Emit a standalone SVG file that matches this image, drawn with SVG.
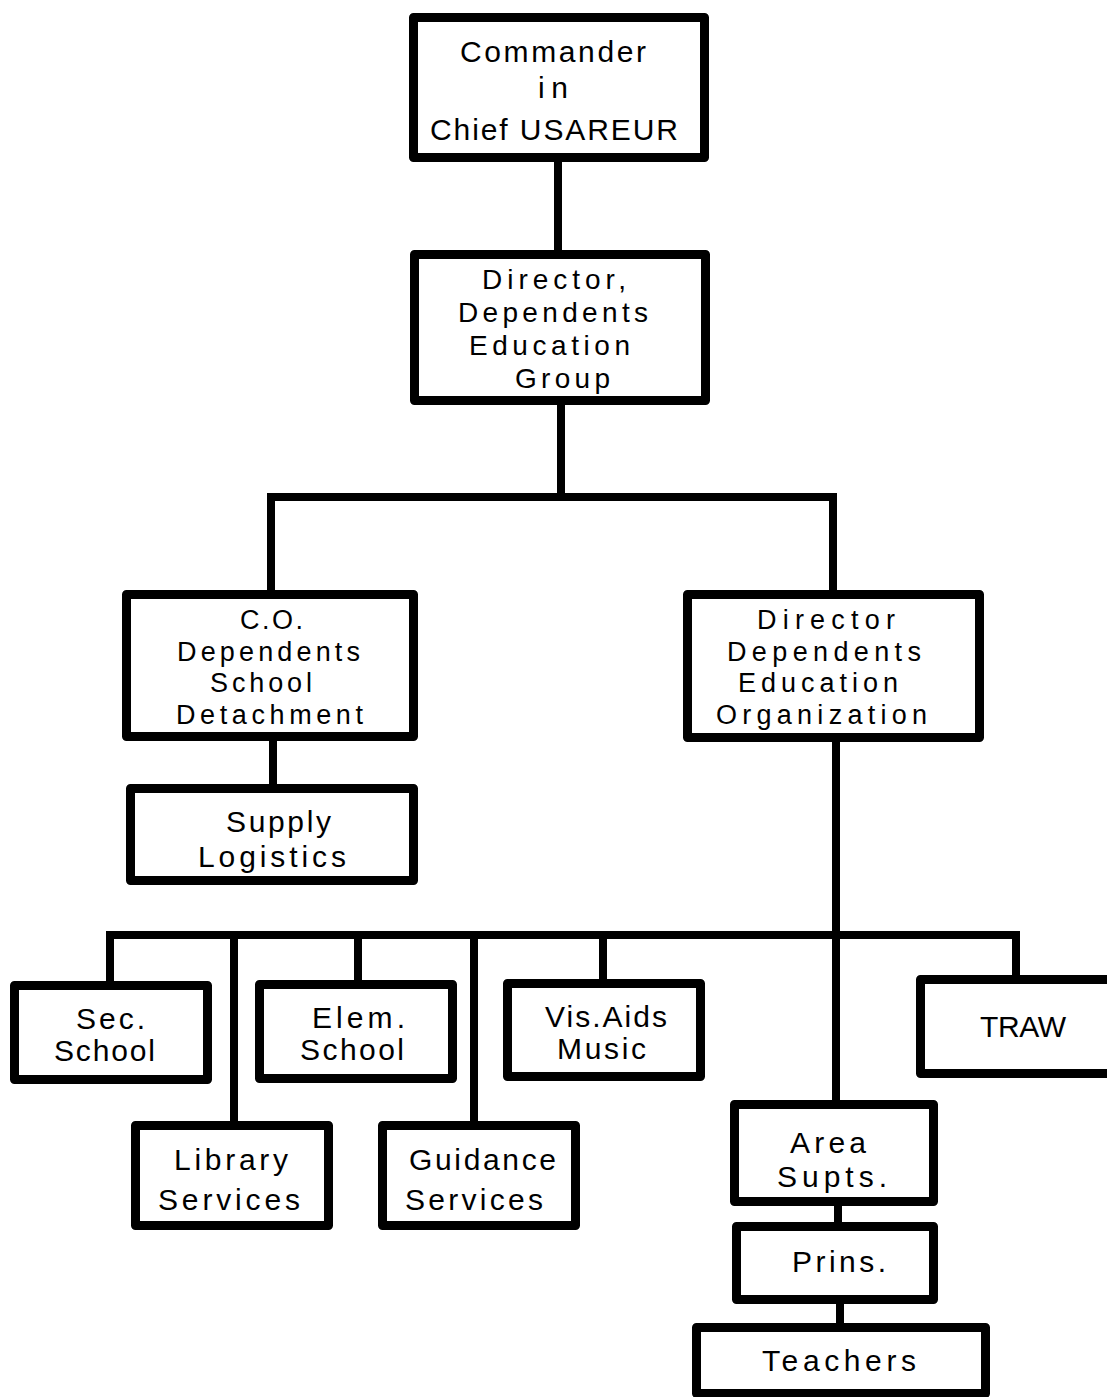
<svg xmlns="http://www.w3.org/2000/svg" width="1107" height="1397" viewBox="0 0 1107 1397">
<style>
.box{fill:#fff;stroke:#000;stroke-width:9;stroke-linejoin:round}
.ln{fill:none;stroke:#000;stroke-width:8;stroke-linejoin:miter}
text{font-family:"Liberation Sans",Arial,sans-serif;font-size:30px;fill:#000}
.t28{font-size:28px}
.t27{font-size:27px}
</style>
<rect width="1107" height="1397" fill="#fff"/>
<g id="connectors">
<path class="ln" d="M558 160V254"/>
<path class="ln" d="M561 403V497"/>
<path class="ln" d="M271 594V497H833V594"/>
<path class="ln" d="M273 739V788"/>
<path class="ln" d="M836 740V1104"/>
<path class="ln" d="M110 983V935H1016V979"/>
<path class="ln" d="M234 935V1125"/>
<path class="ln" d="M358 935V984"/>
<path class="ln" d="M474 935V1125"/>
<path class="ln" d="M603 935V983"/>
<path class="ln" d="M838 1204V1226"/>
<path class="ln" d="M840 1302V1327"/>
</g>
<g id="commander">
<rect class="box" x="413.5" y="17.5" width="291" height="140"/>
<text x="460" y="62" textLength="186" lengthAdjust="spacing">Commander</text>
<text x="538" y="98" textLength="30" lengthAdjust="spacing">in</text>
<text x="430" y="140" textLength="248" lengthAdjust="spacing">Chief USAREUR</text>
</g>
<g id="director-group" class="t28">
<rect class="box" x="414.5" y="254.5" width="291" height="146"/>
<text class="t28" x="482" y="289" textLength="144" lengthAdjust="spacing">Director,</text>
<text class="t28" x="458" y="322" textLength="190" lengthAdjust="spacing">Dependents</text>
<text class="t28" x="469" y="355" textLength="161" lengthAdjust="spacing">Education</text>
<text class="t28" x="515" y="388" textLength="95" lengthAdjust="spacing">Group</text>
</g>
<g id="co-detachment">
<rect class="box" x="126.5" y="594.5" width="287" height="142"/>
<text class="t27" x="240" y="629" textLength="63" lengthAdjust="spacing">C.O.</text>
<text class="t27" x="177" y="660.5" textLength="183" lengthAdjust="spacing">Dependents</text>
<text class="t27" x="210" y="692" textLength="102" lengthAdjust="spacing">School</text>
<text class="t27" x="176" y="723.5" textLength="187" lengthAdjust="spacing">Detachment</text>
</g>
<g id="supply">
<rect class="box" x="130.5" y="788.5" width="283" height="92"/>
<text x="226" y="832" textLength="105" lengthAdjust="spacing">Supply</text>
<text x="198" y="867" textLength="148" lengthAdjust="spacing">Logistics</text>
</g>
<g id="director-organization">
<rect class="box" x="687.5" y="594.5" width="292" height="143"/>
<text class="t27" x="757" y="629" textLength="138" lengthAdjust="spacing">Director</text>
<text class="t27" x="727" y="660.5" textLength="194" lengthAdjust="spacing">Dependents</text>
<text class="t27" x="738" y="692" textLength="160" lengthAdjust="spacing">Education</text>
<text class="t27" x="716" y="723.5" textLength="211" lengthAdjust="spacing">Organization</text>
</g>
<g id="sec-school">
<rect class="box" x="14.5" y="985.5" width="193" height="94"/>
<text x="76" y="1029" textLength="69" lengthAdjust="spacing">Sec.</text>
<text x="54" y="1061" textLength="101" lengthAdjust="spacing">School</text>
</g>
<g id="elem-school">
<rect class="box" x="259.5" y="984.5" width="193" height="94"/>
<text x="312" y="1028" textLength="93" lengthAdjust="spacing">Elem.</text>
<text x="300" y="1060" textLength="104" lengthAdjust="spacing">School</text>
</g>
<g id="vis-aids">
<rect class="box" x="507.5" y="983.5" width="193" height="93"/>
<text x="545" y="1027" textLength="122" lengthAdjust="spacing">Vis.Aids</text>
<text x="557" y="1059" textLength="89" lengthAdjust="spacing">Music</text>
</g>
<g id="traw">
<rect class="box" x="920.5" y="979.5" width="200" height="94"/>
<text x="980" y="1037" textLength="86" lengthAdjust="spacing">TRAW</text>
</g>
<g id="library">
<rect class="box" x="135.5" y="1125.5" width="193" height="100"/>
<text x="174" y="1170" textLength="114" lengthAdjust="spacing">Library</text>
<text x="158" y="1210" textLength="142" lengthAdjust="spacing">Services</text>
</g>
<g id="guidance">
<rect class="box" x="382.5" y="1125.5" width="193" height="100"/>
<text x="409" y="1170" textLength="147" lengthAdjust="spacing">Guidance</text>
<text x="405" y="1210" textLength="138" lengthAdjust="spacing">Services</text>
</g>
<g id="area-supts">
<rect class="box" x="734.5" y="1104.5" width="199" height="97"/>
<text x="790" y="1153" textLength="76" lengthAdjust="spacing">Area</text>
<text x="777" y="1187" textLength="110" lengthAdjust="spacing">Supts.</text>
</g>
<g id="prins">
<rect class="box" x="736.5" y="1226.5" width="197" height="73"/>
<text x="792" y="1272" textLength="94" lengthAdjust="spacing">Prins.</text>
</g>
<g id="teachers">
<rect class="box" x="696.5" y="1327.5" width="289" height="66"/>
<text x="762" y="1371" textLength="154" lengthAdjust="spacing">Teachers</text>
</g>
</svg>
